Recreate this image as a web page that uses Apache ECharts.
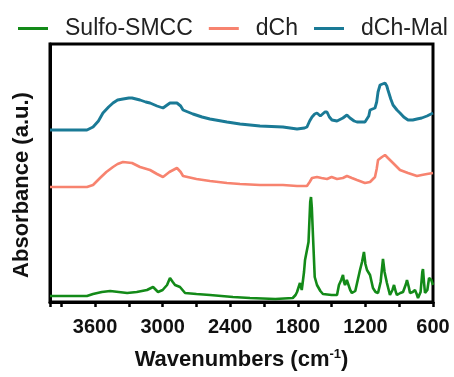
<!DOCTYPE html>
<html>
<head>
<meta charset="utf-8">
<script src="https://cdn.jsdelivr.net/npm/echarts@6/dist/echarts.min.js"></script>
<style>html,body{margin:0;padding:0;background:#fff}#c{width:454px;height:377px}</style>
</head>
<body>
<div id="c"></div>
<script>
var seriesNames = ['Sulfo-SMCC', 'dCh', 'dCh-Mal'];
var xTicks = [600, 1200, 1800, 2400, 3000, 3600];

var smccWn = [4000,3800,3672,3618,3540,3466,3390,3315,3230,3139,3085,3041,3000,2961,2935,2910,2890,2846,2801,2700,2580,2376,2225,2000,1845,1820,1807,1781,1765,1754,1745,1736,1719,1705,1690,1683,1676,1665,1650,1630,1600,1577,1500,1452,1435,1415,1399,1390,1381,1365,1355,1335,1320,1290,1275,1248,1230,1213,1200,1186,1170,1159,1133,1110,1088,1065,1044,1030,1009,982,960,946,930,920,890,866,840,831,815,804,780,760,745,733,710,695,689,680,671,650,635,627,615,600];
var smccAbs = [6,6,6,8,10,11,10,9,10,12,15,10,12,17,24,20,17,15,9,8,7,5,4,3,4,7,10,19,12,10,30,42,40,60,100,105,95,65,25,17,11,8,7,7,17,22,27,20,17,22,20,12,9,11,12,32,40,50,38,32,30,27,14,10,9,20,43,30,19,7,12,17,10,7,9,10,18,22,15,9,10,12,8,4,10,30,33,20,9,12,24,26,22,17];

var dchWn = [4000,3800,3672,3618,3556,3500,3441,3400,3352,3272,3201,3112,3050,2997,2940,2873,2840,2819,2700,2580,2429,2313,2136,1932,1807,1719,1695,1674,1630,1590,1541,1500,1452,1400,1364,1320,1275,1204,1159,1115,1100,1088,1053,1026,1000,955,893,822,742,700,653,600];
var dchAbs = [115,115,115,117,124,130,135,138,140,139,135,132,128,125,130,134,130,126,123,121,119,118,117,117,116,116,120,124,125,124,123,125,123,124,126,124,122,119,120,125,133,142,145,147,144,139,132,129,126,127,128,129];

var malWn = [4000,3800,3672,3618,3570,3530,3480,3441,3400,3352,3300,3272,3201,3150,3112,3050,2997,2960,2935,2873,2840,2819,2731,2650,2580,2429,2313,2136,1932,1807,1740,1719,1695,1674,1650,1630,1600,1585,1560,1541,1520,1497,1452,1400,1364,1337,1300,1275,1204,1170,1159,1115,1100,1088,1070,1053,1026,1010,1000,975,955,920,893,860,822,780,742,700,653,600];
var malAbs = [172,172,172,175,181,189,195,199,202,203,204,204,202,200,199,196,194,197,199,199,196,192,188,185,183,180,178,176,175,173,174,175,181,185,188,189,186,187,190,190,185,182,181,184,187,184,181,180,180,186,192,194,200,210,217,219,219,216,212,203,197,192,189,185,182,182,183,184,186,189];

function pairs(xs, ys) { return xs.map(function (x, i) { return [x, ys[i]]; }); }

var colors = ['#138a18', '#f7836f', '#1a7a96'];
var chart = echarts.init(document.getElementById('c'), null, {renderer: 'canvas'});
chart.setOption({
  animation: false,
  backgroundColor: '#fff',
  color: colors,
  legend: {
    top: 17, left: 18, width: 436, padding: 0,
    icon: 'rect', itemWidth: 30, itemHeight: 3, itemGap: 16,
    textStyle: {fontFamily: 'Liberation Sans', fontSize: 23, color: '#222', padding: [0, 0, 0, 12]},
    data: seriesNames
  },
  grid: {left: 50, right: 21, top: 44, bottom: 75, show: true, borderColor: '#000', borderWidth: 3},
  xAxis: {
    type: 'value', inverse: true, min: 600, max: 4000, interval: 300,
    axisLine: {show: true, onZero: false, lineStyle: {color: '#000', width: 3}},
    axisTick: {show: true, inside: false, length: 5, lineStyle: {color: '#000', width: 2.5}},
    splitLine: {show: false},
    axisLabel: {
      margin: 15, fontFamily: 'Liberation Sans', fontWeight: 'bold', fontSize: 20, color: '#111',
      formatter: function (v) { return xTicks.indexOf(v) >= 0 ? String(v) : ''; }
    },
    name: '{a|Wavenumbers (cm}{s|-1}{a|)}', nameLocation: 'middle', nameGap: 46,
    nameTextStyle: {
      rich: {
        a: {fontFamily: 'Liberation Sans', fontWeight: 'bold', fontSize: 22, color: '#111'},
        s: {fontFamily: 'Liberation Sans', fontWeight: 'bold', fontSize: 13, color: '#111', verticalAlign: 'top', padding: [0, 0, 10, 0]}
      }
    }
  },
  yAxis: {
    type: 'value', min: 0, max: 258,
    axisLine: {show: true, lineStyle: {color: '#000', width: 3}},
    axisTick: {show: false}, axisLabel: {show: false}, splitLine: {show: false},
    name: 'Absorbance (a.u.)', nameLocation: 'middle', nameGap: 17, nameRotate: 90,
    nameTextStyle: {fontFamily: 'Liberation Sans', fontWeight: 'bold', fontSize: 22, color: '#111', padding: [0, 24, 0, 0]}
  },
  series: [
    {name: seriesNames[0], type: 'line', data: pairs(smccWn, smccAbs), showSymbol: false, lineStyle: {width: 2.6}, z: 3},
    {name: seriesNames[1], type: 'line', data: pairs(dchWn, dchAbs), showSymbol: false, lineStyle: {width: 2.6}, z: 2},
    {name: seriesNames[2], type: 'line', data: pairs(malWn, malAbs), showSymbol: false, lineStyle: {width: 2.9}, z: 2}
  ]
});
</script>
</body>
</html>
